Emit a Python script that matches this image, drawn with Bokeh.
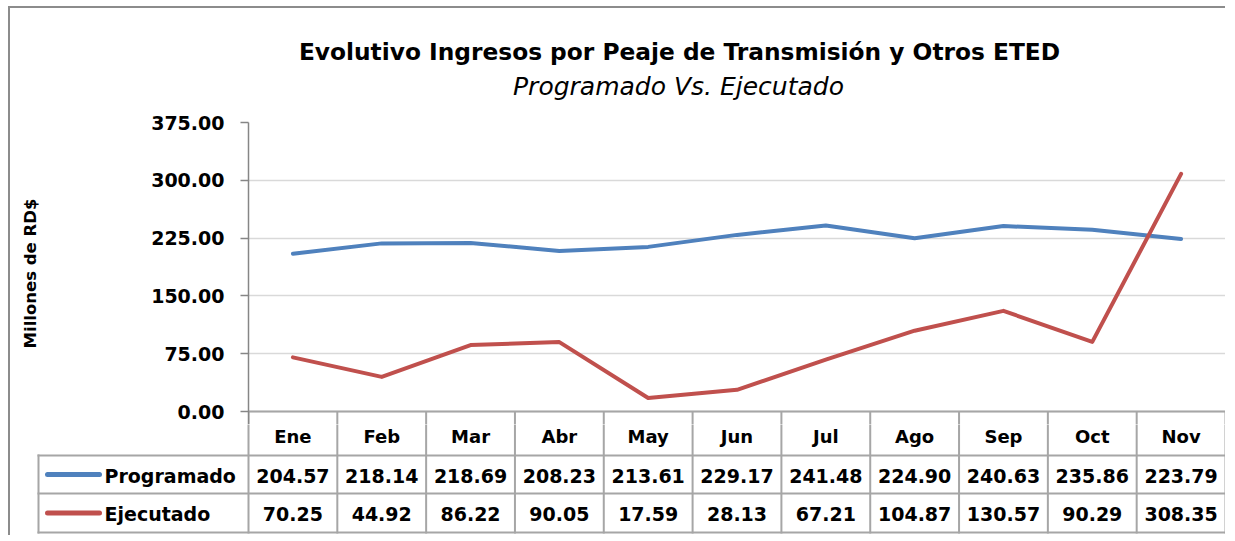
from bokeh.plotting import figure
from bokeh.models import Range1d, FixedTicker, NumeralTickFormatter
from bokeh.embed import file_html
from bokeh.resources import INLINE
from bokeh.core.properties import value

# ---------------- data ----------------
months = ["Ene", "Feb", "Mar", "Abr", "May", "Jun", "Jul", "Ago", "Sep", "Oct", "Nov"]
programado = [204.57, 218.14, 218.69, 208.23, 213.61, 229.17, 241.48, 224.90, 240.63, 235.86, 223.79]
ejecutado = [70.25, 44.92, 86.22, 90.05, 17.59, 28.13, 67.21, 104.87, 130.57, 90.29, 308.35]
y_ticks = [0, 75, 150, 225, 300, 375]
series_names = ["Programado", "Ejecutado"]
series_colors = ["#4F81BD", "#C0504D"]
title_text = "Evolutivo Ingresos por Peaje de Transmisión y Otros ETED"
subtitle_text = "Programado Vs. Ejecutado"
y_label = "Millones de RD$"

# ---------------- layout constants ----------------
FONT = "DejaVu Sans"
ORX, ORY = 10, 8              # screen origin of figure content (after margin + border)
W = 1227 - ORX
FRAME_L, DATA_R = 248, 1225   # screen x of the category band edges
FRAME_T, ZERO_Y = 122, 411    # screen y of 375 and 0
HEAD_B = 108                  # bottom of the title strip
SPLIT = 424                   # screen y where the table figure starts
TAB_B = 535
TITLE_CX, TITLE_CY, SUB_CX, SUB_CY = 679, 50, 678, 84
n = len(months)
unit = (DATA_R - FRAME_L) / n
ymax = y_ticks[-1]
pxu = (ZERO_Y - FRAME_T) / ymax
xs = list(range(n))
x_end = n - 0.5 + (ORX + W - DATA_R) / unit
grid_col = "#A6A6A6"
vx = [i - 0.5 for i in range(n + 1)]

def bare(fig):
    fig.xgrid.visible = False
    fig.ygrid.visible = False
    return fig

# ---------------- title strip ----------------
h = figure(width=W, height=HEAD_B - ORY + 2, x_range=Range1d(ORX, ORX + W),
           y_range=Range1d(HEAD_B, ORY), output_backend="svg", toolbar_location=None,
           x_axis_location=None, y_axis_location=None, min_border_left=0,
           min_border_right=0, min_border_top=0, min_border_bottom=0,
           outline_line_color=None)
bare(h)
h.styles = {"margin-left": "8px", "margin-top": "6px",
            "border-left": "2px solid #8C8C8C", "border-top": "2px solid #8C8C8C"}
h.text(x=[TITLE_CX], y=[TITLE_CY], text=[title_text], text_font=value(FONT),
       text_font_size="23.3px", text_font_style="bold", text_color="black",
       text_align="center", text_baseline="middle")
h.text(x=[SUB_CX], y=[SUB_CY], text=[subtitle_text], text_font=value(FONT),
       text_font_size="25px", text_font_style="italic", text_color="black",
       text_align="center", text_baseline="middle")

# ---------------- chart ----------------
p = figure(width=W, height=SPLIT - HEAD_B, x_range=Range1d(-0.5, x_end),
           y_range=Range1d(-(SPLIT - ZERO_Y) / pxu, ymax), output_backend="svg",
           toolbar_location=None, x_axis_location=None,
           min_border_left=FRAME_L - ORX, min_border_right=0, min_border_top=FRAME_T - HEAD_B,
           min_border_bottom=0, outline_line_color=None, background_fill_color="white")
p.styles = {"margin-left": "8px", "border-left": "2px solid #8C8C8C"}

ax = p.yaxis[0]
ax.ticker = FixedTicker(ticks=y_ticks)
ax.formatter = NumeralTickFormatter(format="0.00")
ax.major_label_text_font = FONT
ax.major_label_text_font_size = "19px"
ax.major_label_text_font_style = "bold"
ax.major_label_text_color = "black"
ax.major_label_standoff = 16
ax.major_tick_out = 8
ax.major_tick_in = 0
ax.minor_tick_out = 0
ax.minor_tick_in = 0
ax.axis_line_color = "#868686"
ax.axis_line_width = 1.5
ax.major_tick_line_color = "#868686"
ax.major_tick_line_width = 1.5
ax.axis_label = y_label
ax.axis_label_text_font = FONT
ax.axis_label_text_font_size = "16.5px"
ax.axis_label_text_font_style = "bold"
ax.axis_label_text_color = "black"
ax.axis_label_standoff = 108
p.ygrid.grid_line_color = "#D9D9D9"
p.ygrid.grid_line_width = 1.5
p.xgrid.visible = False

for vals, col in zip([programado, ejecutado], series_colors):
    p.line(xs, vals, line_color=col, line_width=4, line_join="round", line_cap="round")

# top of the data table (below the zero line) inside the chart figure
y_bot = -(SPLIT - ZERO_Y) / pxu
p.segment(x0=vx, y0=[0] * len(vx), x1=vx, y1=[y_bot - 5] * len(vx),
          line_color=grid_col, line_width=2)
p.segment(x0=[-0.5], y0=[0], x1=[n - 0.5], y1=[0], line_color=grid_col, line_width=2)

# ---------------- data table ----------------
row_bounds = [-44, -82, -121]   # screen-pixel offsets below the zero line
x_start = -0.5 - (FRAME_L - ORX) / unit
t = figure(width=W, height=TAB_B - SPLIT, x_range=Range1d(x_start, x_end),
           y_range=Range1d(-(TAB_B - ZERO_Y), -(SPLIT - ZERO_Y)), output_backend="svg",
           toolbar_location=None, x_axis_location=None, y_axis_location=None,
           min_border_left=0, min_border_right=0, min_border_top=0, min_border_bottom=0,
           outline_line_color=None)
bare(t)
t.styles = {"margin-left": "8px", "border-left": "2px solid #8C8C8C"}

def sx(px):
    return -0.5 + (px - FRAME_L) / unit

leg_left = sx(38)
t.segment(x0=vx, y0=[0] * len(vx), x1=vx, y1=[row_bounds[-1]] * len(vx),
          line_color=grid_col, line_width=2, line_cap="square")
t.segment(x0=[leg_left], y0=[row_bounds[0]], x1=[leg_left], y1=[row_bounds[-1]],
          line_color=grid_col, line_width=2, line_cap="square")
t.segment(x0=[leg_left] * len(row_bounds), y0=row_bounds, x1=[n - 0.5] * len(row_bounds),
          y1=row_bounds, line_color=grid_col, line_width=2, line_cap="square")

t.text(x=xs, y=[-25] * n, text=months, text_font=value(FONT),
       text_font_size="18px", text_font_style="bold", text_color="black",
       text_align="center", text_baseline="middle")

for r, vals in enumerate([programado, ejecutado]):
    yc = (row_bounds[r] + row_bounds[r + 1]) / 2
    t.text(x=xs, y=[yc - 1] * n, text=["%.2f" % v for v in vals],
           text_font=value(FONT), text_font_size="19px", text_font_style="bold",
           text_color="black", text_align="center", text_baseline="middle")
    t.segment(x0=[sx(47)], y0=[yc], x1=[sx(99)], y1=[yc], line_color=series_colors[r],
              line_width=5, line_cap="round")
    t.text(x=[sx(104)], y=[yc - 1], text=[series_names[r]], text_font=value(FONT),
           text_font_size="19px", text_font_style="bold", text_color="black",
           text_align="left", text_baseline="middle")

open("out.html", "w").write(file_html([h, p, t], INLINE))
